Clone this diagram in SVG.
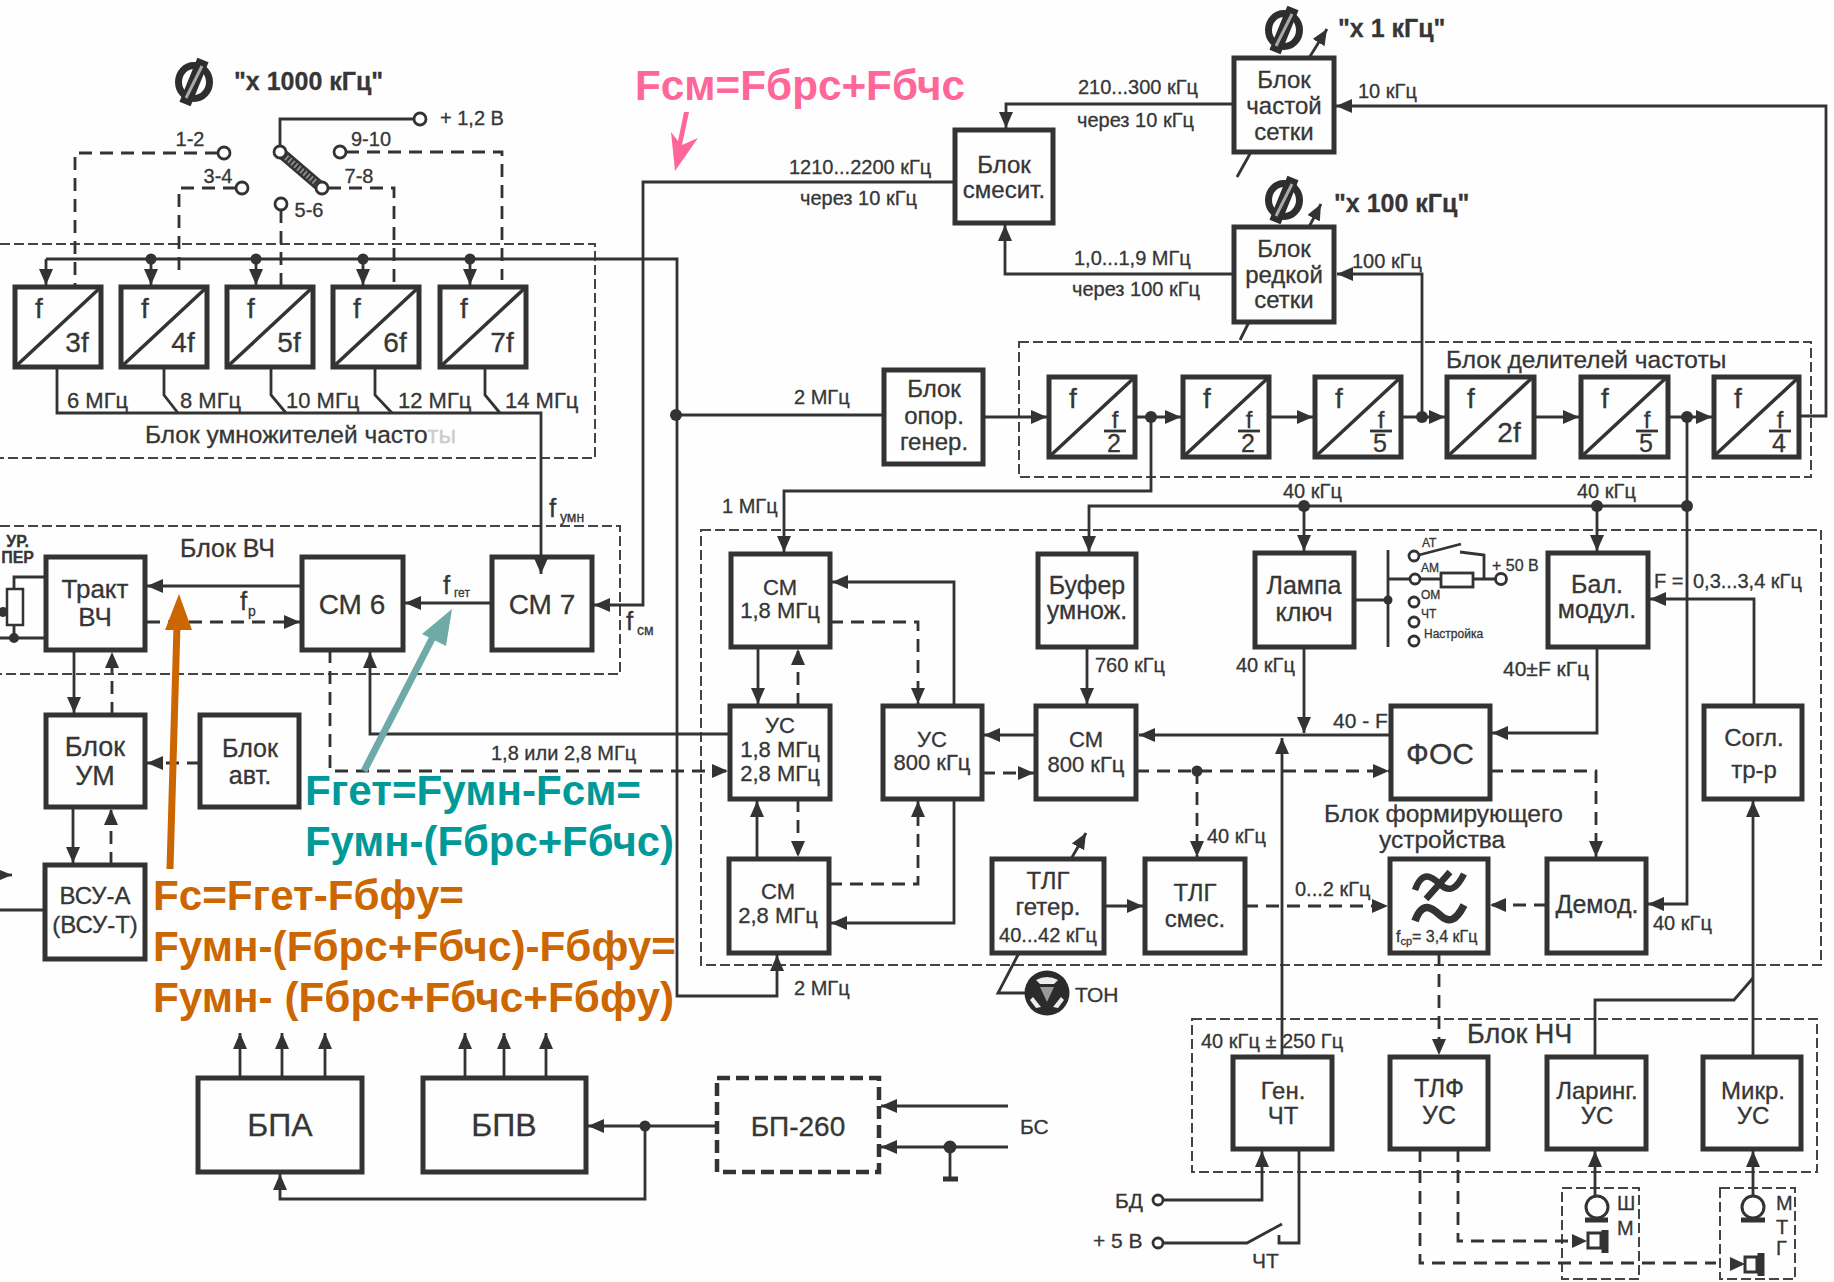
<svg xmlns="http://www.w3.org/2000/svg" width="1834" height="1282" viewBox="0 0 1834 1282">
<style>
text{font-family:"Liberation Sans",Arial,sans-serif;fill:#363636;stroke:#363636;stroke-width:.3}
.m{text-anchor:middle}.e{text-anchor:end}
.z{font-weight:bold}
.s12{font-size:12px}.s14{font-size:14px}.s16{font-size:16px}.s20{font-size:20px}.s21{font-size:21px}.s22{font-size:22px}.s24{font-size:24px}.s245{font-size:24.5px}.s25{font-size:25px}.s26{font-size:26px}.s27{font-size:27px}.s28{font-size:28px}.s30{font-size:30px}.s32{font-size:32px}
.c{fill:none;stroke:#333;stroke-width:2.8}
.d{fill:none;stroke:#333;stroke-width:2.8;stroke-dasharray:13 8}
.a{marker-end:url(#ah)}
.sm{marker-end:url(#as)}
.b{fill:none;stroke:#333;stroke-width:5}
.bd{fill:none;stroke:#333;stroke-width:4.5;stroke-dasharray:13 6}
.f{fill:none;stroke:#444;stroke-width:2;stroke-dasharray:10 4}
.ln{stroke:#333;stroke-width:3.5;fill:none}
.o{fill:#fff;stroke:#333;stroke-width:2.8}
.j{fill:#333}
.cc{font-family:"Liberation Sans",Arial,sans-serif;font-weight:bold;font-size:43px;stroke:none}
</style>
<defs>
<marker id="ah" markerUnits="userSpaceOnUse" markerWidth="16" markerHeight="14" viewBox="0 0 16 14" refX="16" refY="7" orient="auto"><path d="M0 0L16 7L0 14z" fill="#333"/></marker>
<marker id="as" markerUnits="userSpaceOnUse" markerWidth="12" markerHeight="10" viewBox="0 0 12 10" refX="12" refY="5" orient="auto"><path d="M0 0L12 5L0 10z" fill="#333"/></marker>
<g id="knob"><ellipse cx="0" cy="0" rx="15.5" ry="16.5" fill="#fff" stroke="#2e2e2e" stroke-width="7"/><path d="M-9 22L9 -22" stroke="#2e2e2e" stroke-width="12"/><path d="M-8 16L8 -16" stroke="#aaa" stroke-width="3"/></g>
<path id="diag" d="M0 80L86 0"/>
</defs>
<rect width="1834" height="1282" fill="#fefefe"/>

<g id="frames">
<path class="f" d="M0 244H595V458H0"/>
<path class="f" d="M0 526H620V674H0"/>
<rect class="f" x="1019" y="342" width="792" height="135"/>
<rect class="f" x="701" y="530" width="1120" height="435"/>
<rect class="f" x="1192" y="1019" width="625" height="153"/>
<rect class="f" x="1562" y="1188" width="77" height="91"/>
<rect class="f" x="1720" y="1188" width="75" height="91"/>
</g>

<g id="connectors">
<path class="c a" d="M46 259V285"/>
<path class="c a" d="M46 259H677V996H777V955"/>
<path class="c a" d="M151 259V285"/><path class="c a" d="M256 259V285"/><path class="c a" d="M363 259V285"/><path class="c a" d="M470 259V285"/>
<path class="c" d="M676 415H884"/>
<path class="c a" d="M955 182H643V605H594"/>
<path class="c a" d="M983 417H1047"/><path class="c a" d="M1135 417H1181"/><path class="c a" d="M1269 417H1313"/><path class="c a" d="M1401 417H1445"/><path class="c a" d="M1534 417H1579"/><path class="c a" d="M1668 417H1712"/>
<path class="c a" d="M1799 416H1826V106H1336"/>
<path class="c a" d="M1422 417V274H1337"/>
<path class="c a" d="M1234 104H1006V128"/>
<path class="c a" d="M1234 274H1005V225"/>
<path class="c" d="M1251 152L1237 177"/><path class="c" d="M1249 322L1240 340"/>
<path class="c a" d="M1309 58L1327 29"/><path class="c a" d="M1309 227L1321 204"/>
<path class="c a" d="M1151 417V491H784V552"/>
<path class="c a" d="M1687 417V904H1648"/>
<path class="c a" d="M1687 506H1089V552"/>
<path class="c a" d="M1304 506V551"/><path class="c a" d="M1597 506V551"/>
<path class="c a" d="M1304 647V733"/>
<path class="c a" d="M1597 647V733H1492"/>
<path class="c a" d="M1391 735H1139"/>
<path class="c a" d="M1036 735H984"/>
<path class="c a" d="M1087 647V704"/>
<path class="c a" d="M954 706V582H832"/>
<path class="c a" d="M954 799V923H831"/>
<path class="c a" d="M758 647V704"/>
<path class="c a" d="M757 859V801"/>
<path class="c a" d="M730 734H370V652"/>
<path class="c a" d="M492 603H405"/>
<path class="c a" d="M302 586H147"/>
<path class="c a" d="M57 367V413H541V574"/>
<path class="c" d="M164 367V395L178 413"/><path class="c" d="M271 367V395L286 413"/><path class="c" d="M375 367V395L392 413"/><path class="c" d="M485 367V395L500 413"/>
<path class="c a" d="M74 650V713"/><path class="c a" d="M73 807V863"/>
<path class="c" d="M45 910H0"/>
<path class="c sm" d="M0 875H12"/>
<path class="c" d="M46 577H14V589M14 625V638M0 638H46M0 612H7"/>
<path class="d a" d="M147 622H300"/>
<path class="d a" d="M112 715V652"/>
<path class="d a" d="M111 865V809"/>
<path class="d a" d="M200 763H147"/>
<path class="d a" d="M330 650V771H728"/>
<path class="d a" d="M798 706V649"/>
<path class="d a" d="M798 799V857"/>
<path class="d a" d="M830 622H918V704"/>
<path class="d a" d="M829 884H918V801"/>
<path class="d a" d="M982 773H1034"/>
<path class="d a" d="M1136 771H1389"/>
<path class="d a" d="M1197 771V857"/>
<path class="d a" d="M1490 771H1596V857"/>
<path class="d a" d="M1245 906H1388"/>
<path class="d a" d="M1547 905H1490"/>
<path class="d a" d="M1439 953V1055"/>
<path class="c a" d="M1104 906H1143"/>
<path class="c a" d="M1071 859L1086 833"/>
<path class="c a" d="M1282 1057V738"/>
<path class="c a" d="M1753 1057V801"/>
<path class="c" d="M1595 1057V1000H1734L1753 978"/>
<path class="c a" d="M1754 706V599H1650"/>
<path class="c" d="M1019 953L998 993H1026"/>
<path class="c a" d="M1163 1200H1262V1151"/>
<path class="c" d="M1163 1243H1247L1282 1224M1279 1235V1243H1299V1149"/>
<path class="d" d="M1458 1149V1241H1572"/>
<path class="d" d="M1420 1149V1263H1716"/>
<path class="c a" d="M1595 1197V1151"/><path class="c a" d="M1753 1195V1151"/>
<path class="c a" d="M717 1126H588"/>
<path class="c a" d="M645 1126V1199H280V1174"/>
<path class="c a" d="M1008 1106H881"/><path class="c a" d="M1008 1147H881"/>
<path class="c" d="M950 1147V1179"/><path d="M943 1179H958" stroke="#333" stroke-width="5"/>
<path class="c a" d="M240 1078V1033"/><path class="c a" d="M282 1078V1033"/><path class="c a" d="M325 1078V1033"/>
<path class="c a" d="M465 1078V1033"/><path class="c a" d="M504 1078V1033"/><path class="c a" d="M546 1078V1033"/>
<path class="c" d="M280 152V119H414"/>
<path class="d" d="M218 153H75V287"/>
<path class="d" d="M236 188H179V278"/>
<path class="d" d="M281 210V287"/>
<path class="d" d="M328 188H394V287"/>
<path class="d" d="M346 152H502V280"/>
<path class="c" d="M1388 579H1409M1421 579H1441M1473 579H1495M1484 579V555L1460 552V552"/>
<path class="c" d="M1419 555L1461 544"/>
<path class="c" d="M1388 550V647"/>
<path class="c" d="M1354 600H1388"/>
<g class="j">
<circle cx="151" cy="259" r="5.5"/><circle cx="256" cy="259" r="5.5"/><circle cx="363" cy="259" r="5.5"/><circle cx="470" cy="259" r="5.5"/>
<circle cx="676" cy="415" r="6"/><circle cx="1151" cy="417" r="6"/><circle cx="1422" cy="417" r="6"/><circle cx="1687" cy="417" r="6"/>
<circle cx="1304" cy="506" r="6"/><circle cx="1597" cy="506" r="6"/><circle cx="1687" cy="506" r="6"/>
<circle cx="1197" cy="771" r="5.5"/><circle cx="645" cy="1126" r="5.5"/><circle cx="950" cy="1147" r="6.5"/>
<circle cx="14" cy="638" r="5"/><circle cx="3" cy="612" r="5"/><circle cx="1388" cy="600" r="4.5"/>
</g>
</g>

<g id="knob-1000"><use href="#knob" x="194" y="82"/><text class="s25 z" x="234" y="90">"х 1000 кГц"</text></g>
<g id="knob-1"><use href="#knob" x="1284" y="30"/><text class="s25 z" x="1338" y="37">"х 1 кГц"</text></g>
<g id="knob-100"><use href="#knob" x="1284" y="200"/><text class="s25 z" x="1334" y="212">"х 100 кГц"</text></g>

<g id="range-switch">
<path d="M280 152L322 188" stroke="#333" stroke-width="11"/><path d="M280 152L322 188" stroke="#888" stroke-width="6" stroke-dasharray="2 2"/>
<circle class="o" cx="224" cy="153" r="6"/><circle class="o" cx="242" cy="188" r="6"/><circle class="o" cx="280" cy="152" r="6"/><circle class="o" cx="322" cy="188" r="6"/><circle class="o" cx="281" cy="204" r="6"/><circle class="o" cx="340" cy="152" r="6"/><circle class="o" cx="420" cy="119" r="6"/>
<text class="s20 m" x="190" y="146">1-2</text><text class="s20 m" x="218" y="183">3-4</text><text class="s20 m" x="359" y="183">7-8</text><text class="s20 m" x="371" y="146">9-10</text><text class="s20 m" x="309" y="217">5-6</text>
<text class="s20" x="440" y="125">+ 1,2 В</text>
</g>

<g id="mult-3f"><rect class="b" x="15" y="287" width="86" height="80"/><use href="#diag" x="15" y="287" class="ln"/><text class="s28 m" x="39" y="318">f</text><text class="s28 m" x="77" y="352">3f</text></g>
<g id="mult-4f"><rect class="b" x="121" y="287" width="86" height="80"/><use href="#diag" x="121" y="287" class="ln"/><text class="s28 m" x="145" y="318">f</text><text class="s28 m" x="183" y="352">4f</text></g>
<g id="mult-5f"><rect class="b" x="227" y="287" width="86" height="80"/><use href="#diag" x="227" y="287" class="ln"/><text class="s28 m" x="251" y="318">f</text><text class="s28 m" x="289" y="352">5f</text></g>
<g id="mult-6f"><rect class="b" x="333" y="287" width="86" height="80"/><use href="#diag" x="333" y="287" class="ln"/><text class="s28 m" x="357" y="318">f</text><text class="s28 m" x="395" y="352">6f</text></g>
<g id="mult-7f"><rect class="b" x="440" y="287" width="86" height="80"/><use href="#diag" x="440" y="287" class="ln"/><text class="s28 m" x="464" y="318">f</text><text class="s28 m" x="502" y="352">7f</text></g>

<g id="labels-mult">
<text class="s22" x="67" y="408">6 МГц</text><text class="s22" x="180" y="408">8 МГц</text><text class="s22" x="286" y="408">10 МГц</text><text class="s22" x="398" y="408">12 МГц</text><text class="s22" x="505" y="408">14 МГц</text>
<text class="s245" x="145" y="443">Блок умножителей часто<tspan fill="#ccc" stroke="#ccc">ты</tspan></text>
</g>

<g id="trakt"><rect class="b" x="46" y="557" width="99" height="93"/><text class="s26 m" x="95" y="598">Тракт</text><text class="s26 m" x="95" y="626">ВЧ</text></g>
<g id="sm6"><rect class="b" x="302" y="557" width="101" height="93"/><text class="s28 m" x="352" y="614">СМ 6</text></g>
<g id="sm7"><rect class="b" x="492" y="557" width="100" height="93"/><text class="s28 m" x="542" y="614">СМ 7</text></g>
<g id="um"><rect class="b" x="46" y="715" width="99" height="92"/><text class="s27 m" x="95" y="756">Блок</text><text class="s27 m" x="95" y="785">УМ</text></g>
<g id="avt"><rect class="b" x="200" y="715" width="99" height="92"/><text class="s25 m" x="250" y="757">Блок</text><text class="s25 m" x="250" y="784">авт.</text></g>
<g id="vsu"><rect class="b" x="45" y="865" width="100" height="94"/><text class="s24 m" x="95" y="904">ВСУ-А</text><text class="s24 m" x="95" y="933">(ВСУ-Т)</text></g>
<g id="resistor"><rect x="7" y="589" width="16" height="36" fill="#fefefe" stroke="#333" stroke-width="2.5"/><text class="s16 z e" x="29" y="547">УР.</text><text class="s16 z e" x="34" y="563">ПЕР</text></g>
<g id="labels-vch">
<text class="s25" x="180" y="557">Блок ВЧ</text>
<text class="s26" x="240" y="610">f</text><text class="s14" x="248" y="616">р</text>
<text class="s26" x="443" y="594">f</text><text class="s12" x="454" y="597">гет</text>
<text class="s26" x="549" y="517">f</text><text class="s14" x="560" y="522">умн</text>
<text class="s26" x="626" y="630">f</text><text class="s14" x="637" y="635">см</text>
<text class="s20" x="491" y="760">1,8 или 2,8 МГц</text>
</g>

<g id="smesit"><rect class="b" x="955" y="130" width="98" height="93"/><text class="s24 m" x="1004" y="173">Блок</text><text class="s24 m" x="1004" y="198">смесит.</text></g>
<g id="chastoi"><rect class="b" x="1234" y="58" width="100" height="94"/><text class="s24 m" x="1284" y="88">Блок</text><text class="s24 m" x="1284" y="114">частой</text><text class="s24 m" x="1284" y="140">сетки</text></g>
<g id="redkoi"><rect class="b" x="1234" y="227" width="100" height="95"/><text class="s24 m" x="1284" y="257">Блок</text><text class="s24 m" x="1284" y="283">редкой</text><text class="s24 m" x="1284" y="308">сетки</text></g>
<g id="opor"><rect class="b" x="884" y="370" width="99" height="94"/><text class="s24 m" x="934" y="397">Блок</text><text class="s24 m" x="934" y="424">опор.</text><text class="s24 m" x="934" y="450">генер.</text></g>
<g id="labels-top">
<text class="s20" x="1078" y="94">210...300 кГц</text><text class="s20" x="1077" y="127">через 10 кГц</text>
<text class="s20" x="789" y="174">1210...2200 кГц</text><text class="s20" x="800" y="205">через 10 кГц</text>
<text class="s20" x="1074" y="265">1,0...1,9 МГц</text><text class="s20" x="1072" y="296">через 100 кГц</text>
<text class="s20" x="794" y="404">2 МГц</text><text class="s20" x="1358" y="98">10 кГц</text><text class="s20" x="1352" y="268">100 кГц</text>
<text class="s245" x="1446" y="368">Блок делителей частоты</text>
</g>

<g id="div-1"><rect class="b" x="1049" y="377" width="86" height="80"/><use href="#diag" x="1049" y="377" class="ln"/><text class="s28 m" x="1073" y="408">f</text><text class="s24 m" x="1115" y="428">f</text><path class="c" d="M1104 431H1126"/><text class="s25 m" x="1114" y="452">2</text></g>
<g id="div-2"><rect class="b" x="1183" y="377" width="86" height="80"/><use href="#diag" x="1183" y="377" class="ln"/><text class="s28 m" x="1207" y="408">f</text><text class="s24 m" x="1249" y="428">f</text><path class="c" d="M1238 431H1260"/><text class="s25 m" x="1248" y="452">2</text></g>
<g id="div-3"><rect class="b" x="1315" y="377" width="86" height="80"/><use href="#diag" x="1315" y="377" class="ln"/><text class="s28 m" x="1339" y="408">f</text><text class="s24 m" x="1381" y="428">f</text><path class="c" d="M1370 431H1392"/><text class="s25 m" x="1380" y="452">5</text></g>
<g id="div-4"><rect class="b" x="1447" y="377" width="87" height="80"/><use href="#diag" x="1447" y="377" class="ln"/><text class="s28 m" x="1471" y="408">f</text><text class="s28 m" x="1509" y="442">2f</text></g>
<g id="div-5"><rect class="b" x="1581" y="377" width="87" height="80"/><use href="#diag" x="1581" y="377" class="ln"/><text class="s28 m" x="1605" y="408">f</text><text class="s24 m" x="1647" y="428">f</text><path class="c" d="M1636 431H1658"/><text class="s25 m" x="1646" y="452">5</text></g>
<g id="div-6"><rect class="b" x="1714" y="377" width="85" height="80"/><use href="#diag" x="1713" y="377" class="ln"/><text class="s28 m" x="1738" y="408">f</text><text class="s24 m" x="1780" y="428">f</text><path class="c" d="M1769 431H1791"/><text class="s25 m" x="1779" y="452">4</text></g>

<g id="sm18"><rect class="b" x="731" y="554" width="99" height="93"/><text class="s22 m" x="780" y="595">СМ</text><text class="s22 m" x="780" y="618">1,8 МГц</text></g>
<g id="us18"><rect class="b" x="730" y="706" width="100" height="93"/><text class="s22 m" x="780" y="733">УС</text><text class="s22 m" x="780" y="757">1,8 МГц</text><text class="s22 m" x="780" y="781">2,8 МГц</text></g>
<g id="sm28"><rect class="b" x="729" y="859" width="100" height="94"/><text class="s22 m" x="778" y="899">СМ</text><text class="s22 m" x="778" y="923">2,8 МГц</text></g>
<g id="us800"><rect class="b" x="883" y="706" width="99" height="93"/><text class="s22 m" x="932" y="747">УС</text><text class="s22 m" x="932" y="770">800 кГц</text></g>
<g id="bufer"><rect class="b" x="1038" y="554" width="98" height="93"/><text class="s25 m" x="1087" y="594">Буфер</text><text class="s25 m" x="1087" y="619">умнож.</text></g>
<g id="sm800"><rect class="b" x="1036" y="706" width="100" height="93"/><text class="s22 m" x="1086" y="747">СМ</text><text class="s22 m" x="1086" y="772">800 кГц</text></g>
<g id="tlg-geter"><rect class="b" x="992" y="859" width="112" height="94"/><text class="s24 m" x="1048" y="889">ТЛГ</text><text class="s24 m" x="1048" y="915">гетер.</text><text class="s20 m" x="1048" y="942">40...42 кГц</text></g>
<g id="tlg-smes"><rect class="b" x="1145" y="859" width="100" height="94"/><text class="s24 m" x="1195" y="901">ТЛГ</text><text class="s24 m" x="1195" y="927">смес.</text></g>
<g id="lampa"><rect class="b" x="1255" y="553" width="99" height="94"/><text class="s25 m" x="1304" y="594">Лампа</text><text class="s25 m" x="1304" y="621">ключ</text></g>
<g id="balmod"><rect class="b" x="1548" y="553" width="100" height="94"/><text class="s25 m" x="1597" y="593">Бал.</text><text class="s25 m" x="1597" y="618">модул.</text></g>
<g id="fos"><rect class="b" x="1391" y="706" width="99" height="93"/><text class="s30 m" x="1440" y="764">ФОС</text></g>
<g id="sogl"><rect class="b" x="1704" y="706" width="98" height="93"/><text class="s24 m" x="1754" y="746">Согл.</text><text class="s24 m" x="1754" y="778">тр-р</text></g>
<g id="filter"><rect class="b" x="1390" y="859" width="98" height="94"/>
<path d="M1415 890C1423 868 1433 878 1441 885S1456 890 1464 874M1426 899L1450 872" fill="none" stroke="#333" stroke-width="6.5"/>
<path d="M1415 921C1423 899 1433 909 1441 916S1456 921 1464 905" fill="none" stroke="#333" stroke-width="7.5"/>
<text class="s16" x="1396" y="942">f<tspan font-size="11" dy="3">ср</tspan><tspan dy="-3">= 3,4 кГц</tspan></text></g>
<g id="demod"><rect class="b" x="1547" y="859" width="99" height="94"/><text class="s25 m" x="1597" y="913">Демод.</text></g>
<g id="gen"><rect class="b" x="1233" y="1057" width="99" height="92"/><text class="s24 m" x="1283" y="1099">Ген.</text><text class="s24 m" x="1283" y="1124">ЧТ</text></g>
<g id="tlf"><rect class="b" x="1390" y="1057" width="98" height="92"/><text class="s25 m" x="1439" y="1097">ТЛФ</text><text class="s25 m" x="1439" y="1124">УС</text></g>
<g id="laring"><rect class="b" x="1547" y="1057" width="99" height="92"/><text class="s24 m" x="1597" y="1099">Ларинг.</text><text class="s24 m" x="1597" y="1124">УС</text></g>
<g id="mikr"><rect class="b" x="1703" y="1057" width="98" height="92"/><text class="s24 m" x="1753" y="1099">Микр.</text><text class="s24 m" x="1753" y="1124">УС</text></g>
<g id="bpa"><rect class="b" x="198" y="1078" width="164" height="94"/><text class="s32 m" x="280" y="1136">БПА</text></g>
<g id="bpv"><rect class="b" x="423" y="1078" width="163" height="94"/><text class="s32 m" x="504" y="1136">БПВ</text></g>
<g id="bp260"><rect class="bd" x="717" y="1078" width="162" height="94"/><text class="s28 m" x="798" y="1136">БП-260</text></g>

<g id="mode-switch">
<rect x="1441" y="573" width="32" height="14" fill="#fefefe" stroke="#333" stroke-width="2.8"/>
<circle class="o" cx="1414" cy="556" r="5"/><circle class="o" cx="1415" cy="579" r="5"/><circle class="o" cx="1414" cy="602" r="5"/><circle class="o" cx="1414" cy="622" r="5"/><circle class="o" cx="1414" cy="641" r="5"/><circle class="o" cx="1501" cy="579" r="5.5"/>
<text class="s12" x="1422" y="547">АТ</text><text class="s12" x="1421" y="572">АМ</text><text class="s12" x="1421" y="599">ОМ</text><text class="s12" x="1421" y="618">ЧТ</text><text class="s12" x="1424" y="638">Настройка</text>
<text class="s16" x="1492" y="571">+ 50 В</text>
</g>

<g id="labels-tx">
<text class="s20" x="722" y="513">1 МГц</text>
<text class="s20" x="1283" y="498">40 кГц</text><text class="s20" x="1577" y="498">40 кГц</text>
<text class="s20" x="1654" y="588">F =</text><text class="s20" x="1693" y="588">0,3...3,4 кГц</text>
<text class="s20" x="1095" y="672">760 кГц</text><text class="s20" x="1236" y="672">40 кГц</text><text class="s21" x="1503" y="676">40±F кГц</text>
<text class="s21" x="1333" y="728">40 - F</text>
<text class="s20" x="1207" y="843">40 кГц</text><text class="s20" x="1295" y="896">0...2 кГц</text><text class="s20" x="1653" y="930">40 кГц</text>
<text class="s245" x="1324" y="822">Блок формирующего</text><text class="s245" x="1379" y="848">устройства</text>
<text class="s20" x="794" y="995">2 МГц</text>
<text class="s27" x="1467" y="1043">Блок НЧ</text>
<text class="s20" x="1201" y="1048">40 кГц ± 250 Гц</text>
<text class="s21" x="1020" y="1134">БС</text>
<text class="s21" x="1115" y="1208">БД</text><text class="s21" x="1093" y="1248">+ 5 В</text><text class="s21" x="1252" y="1268">ЧТ</text>
</g>

<g id="ton">
<circle cx="1047" cy="993" r="22.5" fill="#2b2b2b"/>
<path d="M1036 980Q1047 974 1058 980L1054 984H1040z" fill="#eee"/><path d="M1033 997L1041 1007L1036 1008L1030 1000z" fill="#eee"/><path d="M1061 997L1053 1007L1058 1008L1064 1000z" fill="#eee"/>
<path d="M1040 987H1054L1047 1002z" fill="#999"/>
<text class="s21" x="1075" y="1002">ТОН</text>
</g>
<circle class="o" cx="1158" cy="1200" r="5"/><circle class="o" cx="1158" cy="1243" r="5"/>

<g id="larynx-set">
<circle cx="1597" cy="1207" r="11" fill="#fefefe" stroke="#333" stroke-width="3"/><path d="M1585 1220H1608" stroke="#333" stroke-width="5"/>
<path d="M1572 1234L1587 1241L1572 1248z" fill="#333"/><rect x="1588" y="1233" width="13" height="15" fill="#fefefe" stroke="#333" stroke-width="3"/><path d="M1605 1230V1253" stroke="#333" stroke-width="7"/>
<text class="s20" x="1617" y="1210">Ш</text><text class="s20" x="1617" y="1235">М</text>
</g>
<g id="mic-set">
<circle cx="1753" cy="1207" r="11" fill="#fefefe" stroke="#333" stroke-width="3"/><path d="M1741 1220H1765" stroke="#333" stroke-width="5"/>
<path d="M1730 1257L1745 1264L1730 1271z" fill="#333"/><rect x="1745" y="1257" width="12" height="15" fill="#fefefe" stroke="#333" stroke-width="3"/><path d="M1761 1253V1276" stroke="#333" stroke-width="7"/>
<text class="s20" x="1776" y="1210">М</text><text class="s20" x="1776" y="1234">Т</text><text class="s20" x="1776" y="1255">Г</text>
</g>

<g id="note-pink">
<text class="cc" style="fill:#ff6699" x="635" y="100" textLength="330" lengthAdjust="spacingAndGlyphs">Fсм=Fбрс+Fбчс</text>
<path d="M689 112L682 145L698 138L675 171L671 132L678 141L684 112z" fill="#ff6699"/>
</g>
<g id="note-teal">
<path d="M364 771L435 633" stroke="#70aaa8" stroke-width="7"/><path d="M452 609L422 634L446 646z" fill="#70aaa8"/>
<text class="cc" style="fill:#009999" x="305" y="805" textLength="336" lengthAdjust="spacingAndGlyphs">Fгет=Fумн-Fсм=</text>
<text class="cc" style="fill:#009999" x="305" y="856" textLength="369" lengthAdjust="spacingAndGlyphs">Fумн-(Fбрс+Fбчс)</text>
</g>
<g id="note-orange">
<path d="M170 869L177 625" stroke="#cc6600" stroke-width="7"/><path d="M179 594L165 630L192 630z" fill="#cc6600"/>
<text class="cc" style="fill:#cc6600" x="153" y="910" textLength="311" lengthAdjust="spacingAndGlyphs">Fс=Fгет-Fбфу=</text>
<text class="cc" style="fill:#cc6600" x="153" y="961" textLength="523" lengthAdjust="spacingAndGlyphs">Fумн-(Fбрс+Fбчс)-Fбфу=</text>
<text class="cc" style="fill:#cc6600" x="153" y="1012" textLength="521" lengthAdjust="spacingAndGlyphs">Fумн- (Fбрс+Fбчс+Fбфу)</text>
</g>
</svg>
